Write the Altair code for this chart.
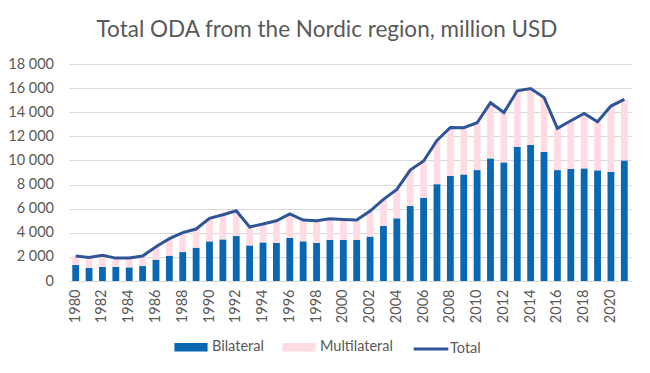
import altair as alt
import pandas as pd

years = list(range(1980, 2022))
bilateral = [1330, 1100, 1160, 1160, 1130, 1240, 1770, 2100, 2400, 2760,
             3290, 3450, 3730, 2950, 3200, 3150, 3570, 3290, 3150, 3400,
             3400, 3400, 3680, 4560, 5200, 6220, 6910, 8030, 8710, 8840,
             9200, 10170, 9840, 11140, 11280, 10700, 9200, 9290, 9340, 9180,
             9040, 10000]
multilateral = [740, 860, 970, 740, 770, 830, 1070, 1410, 1610, 1550,
                1910, 2050, 2100, 1530, 1530, 1850, 1990, 1770, 1850, 1770,
                1710, 1660, 2120, 2210, 2400, 2980, 3040, 3620, 4030, 3880,
                3930, 4620, 4140, 4640, 4690, 4530, 3460, 4000, 4560, 4030,
                5470, 5070]
x_ticks = list(range(1980, 2022, 2))
y_ticks = list(range(0, 18001, 2000))

df = pd.DataFrame({"Year": years, "Bilateral": bilateral, "Multilateral": multilateral})
df["Total"] = df["Bilateral"] + df["Multilateral"]

FONT = "Lato"
GREY = "#595959"
FS = 14.5

x_axis = alt.Axis(title=None, values=x_ticks, labelAngle=270, labelFontSize=FS,
                  labelColor=GREY, labelFont=FONT, ticks=False, domain=False,
                  labelPadding=8)
y_axis = alt.Axis(title=None, values=y_ticks, format=",d", labelOverlap=False,
                  labelFontSize=FS, labelColor=GREY, labelFont=FONT, ticks=False,
                  domain=False, labelPadding=15.5, gridColor="#D9D9D9", gridWidth=1)
y_scale = alt.Scale(domain=[0, 18000], nice=False)
x_scale = alt.Scale(paddingInner=0.49, paddingOuter=0.245)

bars = alt.Chart(df).transform_fold(
    ["Bilateral", "Multilateral"], as_=["Type", "Value"]
).transform_calculate(
    ord="datum.Type == 'Bilateral' ? 0 : 1"
).mark_bar().encode(
    x=alt.X("Year:O", scale=x_scale, axis=x_axis),
    y=alt.Y("Value:Q", stack="zero", scale=y_scale, axis=y_axis),
    fill=alt.Fill("Type:N",
                  scale=alt.Scale(domain=["Bilateral", "Multilateral"],
                                  range=["#0A67B2", "#FFDCE3"]),
                  legend=alt.Legend(title=None, orient="none", legendX=105, legendY=266,
                                    direction="horizontal",
                                    symbolType="M-1,-0.25H1V0.25H-1Z", symbolSize=1100,
                                    symbolStrokeWidth=0, labelFont=FONT, labelFontSize=FS,
                                    labelColor=GREY, columnPadding=18, labelOffset=4,
                                    padding=0)),
    order=alt.Order("ord:Q"),
)

line = alt.Chart(df).transform_calculate(
    Series="'Total'"
).mark_line(strokeWidth=3).encode(
    x=alt.X("Year:O", scale=x_scale, axis=x_axis),
    y=alt.Y("Total:Q", scale=y_scale, axis=y_axis),
    stroke=alt.Stroke("Series:N",
                      scale=alt.Scale(domain=["Total"], range=["#2F5597"]),
                      legend=alt.Legend(title=None, orient="none", legendX=343, legendY=266,
                                        direction="horizontal", symbolType="stroke",
                                        symbolSize=1200, symbolStrokeWidth=3,
                                        labelFont=FONT, labelFontSize=FS, labelColor=GREY,
                                        labelOffset=0, padding=0)),
)

chart = alt.layer(bars, line).properties(
    width=562,
    height=217,
    padding={"left": 61, "top": 56, "right": 11, "bottom": 84},
    autosize=alt.AutoSizeParams(type="none"),
    title=alt.TitleParams("Total ODA from the Nordic region, million USD", font=FONT,
                          fontSize=22.5, fontWeight="normal", color=GREY, anchor="middle",
                          dx=-23, offset=15),
).configure_view(stroke=None)

chart.save("out.html", embed_options={
    "renderer": "svg", "actions": False,
    "formatLocale": {"decimal": ",", "thousands": "\u00a0", "grouping": [3],
                     "currency": ["", ""]},
})
